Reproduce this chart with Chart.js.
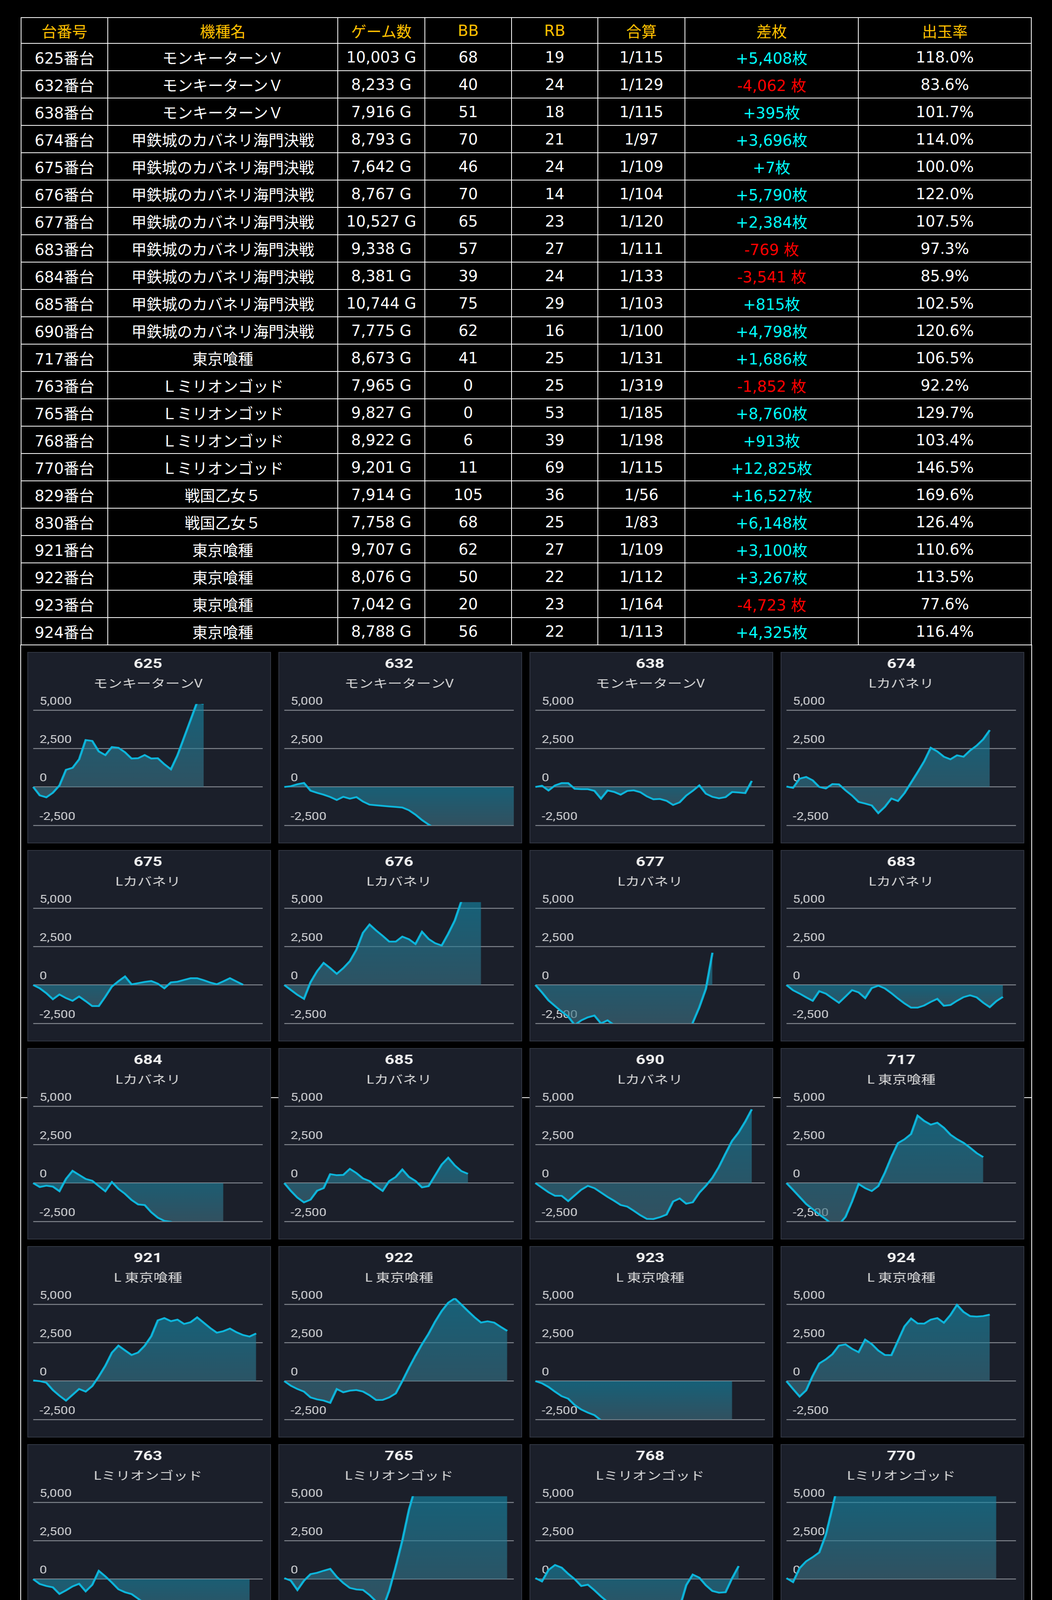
<!DOCTYPE html>
<html lang="ja">
<head>
<meta charset="utf-8">
<title>台番号別データ</title>
<script src="https://cdn.jsdelivr.net/npm/chart.js@4.4.1/dist/chart.umd.min.js"></script>
<style>
  html, body { margin: 0; padding: 0; background: #000; }
  body { position: relative; width: 2694px; height: 4708px; overflow: hidden;
         font-family: "DejaVu Sans", "Noto Sans CJK JP", sans-serif; }
  #data { position: absolute; left: 53px; top: 44px; width: 2587px;
          border-collapse: collapse; table-layout: fixed; }
  #data th, #data td { border: 2px solid #fff; padding: 0; text-align: center; vertical-align: middle;
          font-size: 39px; font-weight: normal; color: #fff; white-space: nowrap; overflow: hidden; }
  #data th { color: #ffc000; }
  #data tr.head { height: 66px; }
  #data tr.row { height: 70px; }
  #data td.plus { color: #00ffff; }
  #data td.minus { color: #ff0000; }
  #frame { position: absolute; left: 52px; top: 1650px; width: 2587px; height: 3060px;
           border-left: 2px solid #fff; border-right: 2px solid #fff; }
  #rule { position: absolute; left: 52px; top: 2809px; width: 2591px; height: 2px; background: #fff; }
  #grid { position: absolute; left: 70px; top: 1669px; display: grid;
          grid-template-columns: repeat(4, 624px); grid-auto-rows: 490px; column-gap: 19px; row-gap: 17px; }
  .panel { position: relative; box-sizing: border-box; background: #1b1f2a; border: 2px solid #323743; }
  .panel .cw { position: absolute; left: -2px; top: -2px; width: 499px; height: 490px;
               transform: scaleX(1.2505); transform-origin: 0 0; }
</style>
</head>
<body>
<table id="data">
  <colgroup>
    <col style="width:222px"><col style="width:589px"><col style="width:223px"><col style="width:222px">
    <col style="width:221px"><col style="width:223px"><col style="width:444px"><col style="width:443px">
  </colgroup>
  <tbody id="rows"></tbody>
</table>
<div id="frame"></div>
<div id="rule"></div>
<div id="grid"></div>

<script>
// table
const headers = ['台番号', '機種名', 'ゲーム数', 'BB', 'RB', '合算', '差枚', '出玉率'];
const unitNos = ['625', '632', '638', '674', '675', '676', '677', '683', '684', '685', '690',
                 '717', '763', '765', '768', '770', '829', '830', '921', '922', '923', '924'];
const modelNames = ['モンキーターンＶ', 'モンキーターンＶ', 'モンキーターンＶ',
  '甲鉄城のカバネリ海門決戦', '甲鉄城のカバネリ海門決戦', '甲鉄城のカバネリ海門決戦', '甲鉄城のカバネリ海門決戦',
  '甲鉄城のカバネリ海門決戦', '甲鉄城のカバネリ海門決戦', '甲鉄城のカバネリ海門決戦', '甲鉄城のカバネリ海門決戦',
  '東京喰種', 'Ｌミリオンゴッド', 'Ｌミリオンゴッド', 'Ｌミリオンゴッド', 'Ｌミリオンゴッド',
  '戦国乙女５', '戦国乙女５', '東京喰種', '東京喰種', '東京喰種', '東京喰種'];
const gameCounts = [10003, 8233, 7916, 8793, 7642, 8767, 10527, 9338, 8381, 10744, 7775,
                    8673, 7965, 9827, 8922, 9201, 7914, 7758, 9707, 8076, 7042, 8788];
const bbCounts = [68, 40, 51, 70, 46, 70, 65, 57, 39, 75, 62, 41, 0, 0, 6, 11, 105, 68, 62, 50, 20, 56];
const rbCounts = [19, 24, 18, 21, 24, 14, 23, 27, 24, 29, 16, 25, 25, 53, 39, 69, 36, 25, 27, 22, 23, 22];
const totalOdds = [115, 129, 115, 97, 109, 104, 120, 111, 133, 103, 100, 131, 319, 185, 198, 115, 56, 83, 109, 112, 164, 113];
const coinDiff = [5408, -4062, 395, 3696, 7, 5790, 2384, -769, -3541, 815, 4798,
                  1686, -1852, 8760, 913, 12825, 16527, 6148, 3100, 3267, -4723, 4325];
const payoutRate = [118.0, 83.6, 101.7, 114.0, 100.0, 122.0, 107.5, 97.3, 85.9, 102.5, 120.6,
                    106.5, 92.2, 129.7, 103.4, 146.5, 169.6, 126.4, 110.6, 113.5, 77.6, 116.4];

// charts (差枚推移, one value per time slot)
const slotCount = 36;
const Y_MIN = -2500;
const Y_MAX = 5400;
const yTicks = [-2500, 0, 2500, 5000];

const s625 = [0, -546, -674, -375, 94, 1117, 1245, 1800, 3054, 2994, 2312, 2073, 2600, 2550, 2260, 1850, 1870, 2080,
              1850, 1870, 1480, 1150, 2060, 3210, 4360, 5520, 5408];
const s632 = [0, 50, 180, 265, -240, -380, -500, -650, -845, -640, -760, -660, -950, -1150, -1190, -1230, -1265, -1300,
              -1335, -1510, -1800, -2150, -2440, -2700, -2900, -3050, -3200, -3350, -3500, -3600, -3700, -3800, -3900,
              -3950, -4000, -4062];
const s638 = [0, 80, -230, 100, 250, 250, -120, -145, -145, -250, -760, -230, -320, -500, -260, -220, -340, -610,
              -800, -780, -900, -1170, -1000, -560, -250, 100, -440, -640, -740, -660, -330, -360, -400, 395];
const s674 = [30, -60, 540, 650, 430, 0, -100, 185, 170, -220, -560, -975, -1080, -1200, -1700, -1300, -750, -915,
              -400, 280, 960, 1670, 2550, 2310, 1970, 1800, 2060, 1970, 2370, 2690, 3100, 3696];
const s675 = [0, -214, -530, -925, -616, -850, -1027, -745, -1050, -1370, -1370, -760, -100, 250, 556, 43, 120, 200,
              260, 90, -214, 171, 214, 330, 440, 445, 310, 160, 50, 240, 445, 230, 17];
const s676 = [0, -320, -640, -900, 180, 900, 1438, 1100, 728, 1100, 1550, 2300, 3400, 3938, 3550, 3200, 2825, 2825,
              3150, 2980, 2670, 3467, 3000, 2720, 2568, 3338, 4194, 5450, 5700, 5900, 5790];
const s677 = [0, -480, -1000, -1370, -1730, -2054, -2600, -2300, -2100, -1986, -2500, -2300, -2600, -2800, -3100,
              -3400, -3700, -3900, -4100, -4300, -4400, -4500, -4400, -4000, -2450, -1450, -250, 2100];
const s683 = [0, -342, -556, -800, -1027, -400, -560, -860, -1156, -750, -330, -480, -850, -200, -43, -220, -530,
              -880, -1200, -1472, -1472, -1330, -1100, -900, -1350, -1300, -1027, -790, -668, -800, -1150, -1440,
              -1050, -769];
const s684 = [0, -256, -171, -230, -530, 270, 795, 530, 270, 150, -200, -530, 68, -380, -700, -1100, -1390, -1430,
              -1900, -2250, -2460, -2520, -2700, -2900, -3000, -3150, -3250, -3350, -3450, -3541];
const s685 = [0, -510, -950, -1257, -1080, -500, -330, 581, 510, 530, 923, 650, 300, 130, -220, -513, 130, 400, 881,
              400, 140, -280, -200, 500, 1200, 1650, 1150, 780, 600];
const s690 = [0, -300, -600, -829, -829, -1171, -800, -430, -180, -330, -610, -900, -1150, -1428, -1530, -1800,
              -2090, -2330, -2340, -2220, -2050, -1200, -1000, -1342, -1250, -630, -180, 350, 1060, 1920, 2750, 3300,
              4000, 4798];
const s717 = [0, -444, -900, -1360, -1700, -2050, -2350, -2700, -2700, -2200, -1200, -60, -330, -520, -200, 670,
              1700, 2600, 2850, 3190, 4386, 4040, 3800, 3930, 3600, 3150, 2860, 2620, 2300, 1950, 1686];
const s921 = [43, 0, -103, -580, -950, -1270, -890, -513, -684, -330, 300, 1000, 1850, 2308, 2000, 1700, 1860, 2300,
              2920, 3950, 4100, 3900, 4000, 3720, 3830, 4147, 3800, 3450, 3150, 3250, 3420, 3180, 3000, 2900, 3100];
const s922 = [0, -300, -513, -684, -1060, -1190, -1265, -1411, -513, -727, -620, -581, -680, -920, -1230, -1225,
              -1060, -800, 0, 850, 1650, 2400, 3080, 3870, 4560, 5100, 5386, 4980, 4560, 4160, 3810, 3890, 3810,
              3530, 3267];
const s923 = [0, -140, -380, -690, -980, -1140, -1560, -1850, -2050, -2210, -2550, -2800, -3000, -3200, -3300, -3500,
              -3600, -3700, -3900, -4000, -4100, -4200, -4300, -4350, -4400, -4500, -4550, -4600, -4650, -4700, -4723];
const s924 = [0, -513, -1000, -600, 342, 1150, 1411, 1750, 2309, 2390, 2100, 1881, 2700, 2410, 1990, 1700, 1690,
              2620, 3560, 4070, 3750, 3740, 4000, 4100, 3800, 4300, 4959, 4500, 4230, 4200, 4232, 4325];
const s763 = [0, -317, -446, -532, -961, -730, -470, -300, -789, -370, 540, 180, -220, -660, -850, -970, -1270,
              -1590, -1870, -2200, -2420, -2200, -2500, -1733, -2000, -2250, -2600, -2800, -2900, -3000, -2950, -2900,
              -2600, -1852];
const s765 = [69, -100, -704, -100, 326, 412, 550, 669, 150, -250, -570, -670, -700, -1030, -1450, -1922, -750, 826,
              2514, 4500, 6000, 6500, 7000, 7200, 7500, 7800, 8000, 8100, 8300, 8500, 8600, 8650, 8700, 8760, 8760];
const s768 = [69, -146, 600, 920, 750, 350, 0, -446, -360, -720, -1120, -1476, -1776, -1790, -2000, -2400, -2700,
              -2900, -3000, -3000, -2900, -2700, -1850, -400, 300, 95, -400, -770, -880, -850, 60, 850];
const s770 = [69, -189, 712, 1160, 1430, 1740, 2886, 4640, 6500, 7200, 7800, 8300, 8800, 9200, 9600, 9900, 10200,
              10500, 10700, 10900, 11100, 11300, 11500, 11700, 11900, 12100, 12300, 12400, 12500, 12600, 12700,
              12800, 12825];
const s829 = [145, -300, -600, -810, -950, -1110, -1380, -1778, -2035, -1778, -2000, -2230, -2390, -2350, -2120,
              -1800, -1200, -700, -120, 560, 1080, 2100, 3230, 4400, 5500, 7000, 8500, 10000, 11500, 12800, 14000,
              15000, 16000, 16527];
const s830 = [17, -260, -539, 359, -26, -282, -496, 190, 540, 720, 1360, 2430, 3350, 4070, 4360, 4121, 5230, 5600,
              5800, 5900, 6000, 6100, 6200, 6300, 6250, 6200, 6150, 6100, 6100, 6150, 6200, 6180, 6160, 6148];

const chartIds = ['625', '632', '638', '674', '675', '676', '677', '683', '684', '685', '690',
                  '717', '921', '922', '923', '924', '763', '765', '768', '770', '829', '830'];
const chartNames = ['モンキーターンV', 'モンキーターンV', 'モンキーターンV', 'Lカバネリ', 'Lカバネリ', 'Lカバネリ',
  'Lカバネリ', 'Lカバネリ', 'Lカバネリ', 'Lカバネリ', 'Lカバネリ', 'L 東京喰種', 'L 東京喰種', 'L 東京喰種',
  'L 東京喰種', 'L 東京喰種', 'Lミリオンゴッド', 'Lミリオンゴッド', 'Lミリオンゴッド', 'Lミリオンゴッド',
  'L戦国乙女5', 'L戦国乙女5'];
const chartSeries = [s625, s632, s638, s674, s675, s676, s677, s683, s684, s685, s690,
                     s717, s921, s922, s923, s924, s763, s765, s768, s770, s829, s830];
const slotLabels = Array.from({ length: slotCount }, () => '');

// build table
const fmt = n => n.toLocaleString('en-US');
const rowsEl = document.getElementById('rows');
let html = '<tr class="head">' + headers.map(h => `<th>${h}</th>`).join('') + '</tr>';
unitNos.forEach((no, i) => {
    const d = coinDiff[i];
    const diffText = d >= 0 ? `+${fmt(d)}枚` : `${fmt(d)} 枚`;
    html += '<tr class="row">' +
        `<td>${no}番台</td><td>${modelNames[i]}</td><td>${fmt(gameCounts[i])} G</td>` +
        `<td>${bbCounts[i]}</td><td>${rbCounts[i]}</td><td>1/${totalOdds[i]}</td>` +
        `<td class="${d >= 0 ? 'plus' : 'minus'}">${diffText}</td><td>${payoutRate[i].toFixed(1)}%</td></tr>`;
});
rowsEl.innerHTML = html;

// area fill: teal at the top of the filled band, greyer at its bottom
function fillGradient(context) {
    const chart = context.chart;
    if (!chart.chartArea) return 'rgba(40,120,145,0.6)';
    const y = chart.scales.y;
    const data = context.dataset.data;
    const hi = Math.min(Math.max(0, ...data), Y_MAX);
    const lo = Math.max(Math.min(0, ...data), Y_MIN);
    const g = chart.ctx.createLinearGradient(0, y.getPixelForValue(hi), 0, y.getPixelForValue(lo) + 1);
    g.addColorStop(0, 'rgba(20,138,168,0.62)');
    g.addColorStop(1, 'rgba(64,112,128,0.62)');
    return g;
}

const grid = document.getElementById('grid');
chartIds.forEach((id, i) => {
    const panel = document.createElement('div');
    panel.className = 'panel';
    const wrap = document.createElement('div');
    wrap.className = 'cw';
    const canvas = document.createElement('canvas');
    wrap.appendChild(canvas);
    panel.appendChild(wrap);
    grid.appendChild(panel);

    new Chart(canvas, {
        type: 'line',
        data: {
            labels: slotLabels,
            datasets: [{
                data: chartSeries[i],
                borderColor: '#0db6dc',
                borderWidth: 4.5,
                pointRadius: 0,
                tension: 0,
                fill: 'origin',
                backgroundColor: fillGradient
            }]
        },
        options: {
            responsive: true,
            maintainAspectRatio: false,
            animation: false,
            devicePixelRatio: 1,
            locale: 'en-US',
            layout: { padding: { left: 12, right: 17, top: 0, bottom: 46 } },
            plugins: {
                legend: { display: false },
                tooltip: { enabled: false },
                title: {
                    display: true,
                    text: id,
                    color: '#f2f2f2',
                    font: { family: 'Roboto, sans-serif', size: 34, weight: 'bold' },
                    padding: { top: 12, bottom: 0 }
                },
                subtitle: {
                    display: true,
                    text: chartNames[i],
                    color: '#dcdcdc',
                    font: { family: '"Noto Sans CJK JP", sans-serif', size: 29.5 },
                    padding: { top: 9, bottom: 36 }
                }
            },
            scales: {
                x: { display: false },
                y: {
                    min: Y_MIN,
                    max: Y_MAX,
                    afterFit: scale => { scale.width = 0; },
                    afterBuildTicks: scale => { scale.ticks = yTicks.map(v => ({ value: v })); },
                    border: { display: false },
                    grid: { color: '#7f838b', lineWidth: 2.5, drawTicks: false },
                    ticks: {
                        mirror: true,
                        padding: 13,
                        labelOffset: -21,
                        color: '#d4d5d8',
                        font: { family: 'Roboto, sans-serif', size: 27 }
                    }
                }
            }
        }
    });
});
</script>
</body>
</html>
